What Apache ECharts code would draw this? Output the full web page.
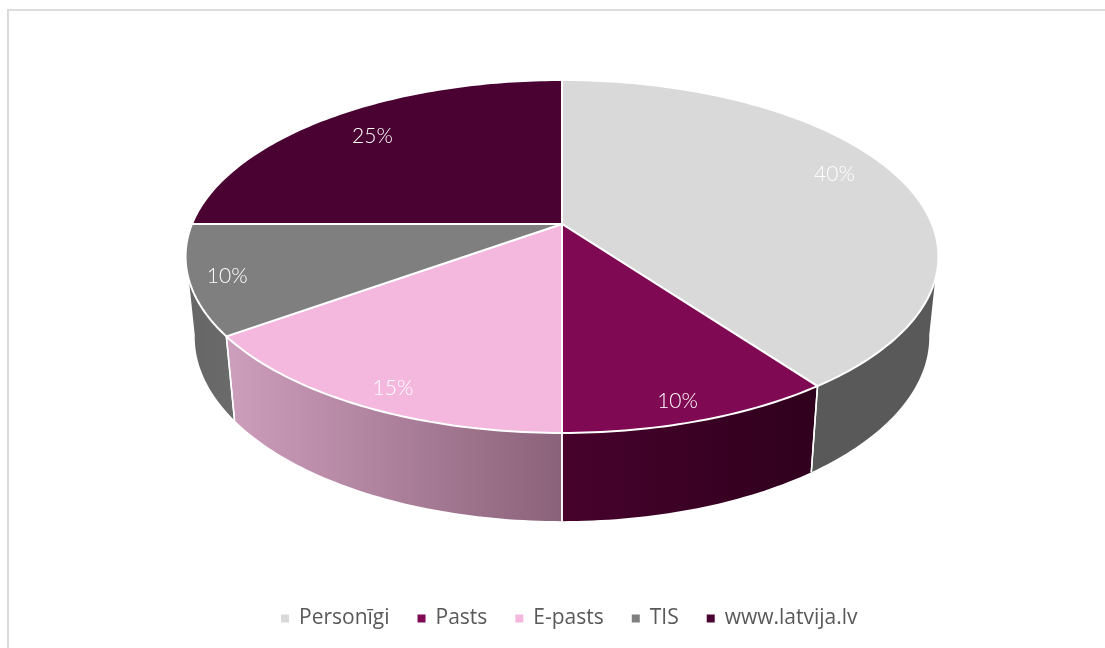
<!DOCTYPE html>
<html><head><meta charset="utf-8">
<style>html,body{margin:0;padding:0;background:#fff}#c{width:1105px;height:648px}</style>
<script src="https://cdn.jsdelivr.net/npm/echarts@6/dist/echarts.min.js"></script>
</head><body><div id="c"></div>
<script>
// data
const categories = ['Personīgi', 'Pasts', 'E-pasts', 'TIS', 'www.latvija.lv'];
const values = [40, 10, 15, 10, 25];
// styles
const topColors = ['#D9D9D9', '#7F0953', '#F4B8DE', '#7F7F7F', '#4A0232'];
const sideLeft = ['#595959', '#47022C', '#CE9EBD', '#666666', '#4A0232'];
const sideRight = ['#595959', '#2F001D', '#8A6279', '#6B6B6B', '#4A0232'];
const labelRadius = [0.81, 0.89, 0.89, 0.9, 0.8];
const labelShiftX = [0, -5, 6, -1, 0];
const labelShiftY = [-9, 6, 6, 2, 0];

// perspective projection of the disc
const C = {x: 562, y: 224, k: 0.184, topA: 170.5, topB: 370, botA: 178, botB: 361, botY: 303};
function proj(deg, r, B, A, cy) {
  const t = deg * Math.PI / 180, u = r * Math.sin(t), v = r * Math.cos(t), d = 1 + C.k * v;
  return [C.x + B * u / d, cy - A * v / d];
}
const topPt = (deg, r) => proj(deg, r === undefined ? 1 : r, C.topB, C.topA, C.y);
const botPt = (deg) => proj(deg, 1, C.botB, C.botA, C.botY);
function arc(fn, a0, a1) {
  const pts = [], n = Math.max(2, Math.ceil(Math.abs(a1 - a0) / 1));
  for (let i = 0; i <= n; i++) pts.push(fn(a0 + (a1 - a0) * i / n));
  return pts;
}
const total = values.reduce((a, b) => a + b, 0);
const TOP_VIS = [108, 252], BOT_VIS = [100, 260];

function sliceRenderer(idx) {
  return function (params, api) {
    const value = api.value(0);
    let before = 0;
    for (let i = 0; i < idx; i++) before += values[i];
    const a0 = before / total * 360, a1 = (before + value) / total * 360;
    const children = [];
    const t0 = Math.max(a0, TOP_VIS[0]), t1 = Math.min(a1, TOP_VIS[1]);
    const b0 = Math.max(a0, BOT_VIS[0]), b1 = Math.min(a1, BOT_VIS[1]);
    if (t1 > t0 && b1 > b0) {
      const pts = arc(topPt, t0, t1).concat(arc(botPt, b1, b0));
      children.push({type: 'polygon', z2: 1, shape: {points: pts}, style: {
        fill: new echarts.graphic.LinearGradient(0, 0, 1, 0, [
          {offset: 0, color: sideLeft[idx]}, {offset: 1, color: sideRight[idx]}]),
        stroke: '#fff', lineWidth: 0}});
      [a0, a1].forEach(a => {
        if (a >= TOP_VIS[0] && a <= TOP_VIS[1]) {
          const p = topPt(a), q = botPt(a);
          children.push({type: 'line', z2: 2, shape: {x1: p[0], y1: p[1], x2: q[0], y2: q[1]},
            style: {stroke: '#fff', lineWidth: 1.5}});
        }
      });
    }
    const pts = [[C.x, C.y]].concat(arc(topPt, a0, a1));
    children.push({type: 'polygon', z2: 3, shape: {points: pts},
      style: {fill: topColors[idx], stroke: '#fff', lineWidth: 2, lineJoin: 'round'}});
    const mid = (a0 + a1) / 2, lp = topPt(mid, labelRadius[idx]);
    children.push({type: 'text', z2: 4, style: {
      x: lp[0] + labelShiftX[idx], y: lp[1] + labelShiftY[idx], text: value + '%', fill: '#fff',
      font: '300 21px Lato', align: 'center', verticalAlign: 'middle'}});
    return {type: 'group', children};
  };
}

const chart = echarts.init(document.getElementById('c'), null, {renderer: 'canvas'});
chart.setOption({
  animation: false,
  backgroundColor: '#fff',
  color: topColors,
  legend: {
    data: categories, left: 276, top: 603, itemWidth: 8, itemHeight: 8, itemGap: 28,
    icon: 'rect', selectedMode: false,
    textStyle: {color: '#595959', fontFamily: 'Open Sans', fontSize: 21, padding: [0, 0, 0, 5]}
  },
  graphic: [
    {type: 'line', shape: {x1: 7, y1: 10, x2: 1105, y2: 10}, style: {stroke: '#DDDDDD', lineWidth: 2}},
    {type: 'line', shape: {x1: 8, y1: 9, x2: 8, y2: 648}, style: {stroke: '#D9D9D9', lineWidth: 2}}
  ],
  series: categories.map((name, i) => ({
    type: 'custom', name, coordinateSystem: 'none', z: 2,
    itemStyle: {color: topColors[i]},
    renderItem: sliceRenderer(i), data: [[values[i]]]
  }))
});
</script></body></html>
